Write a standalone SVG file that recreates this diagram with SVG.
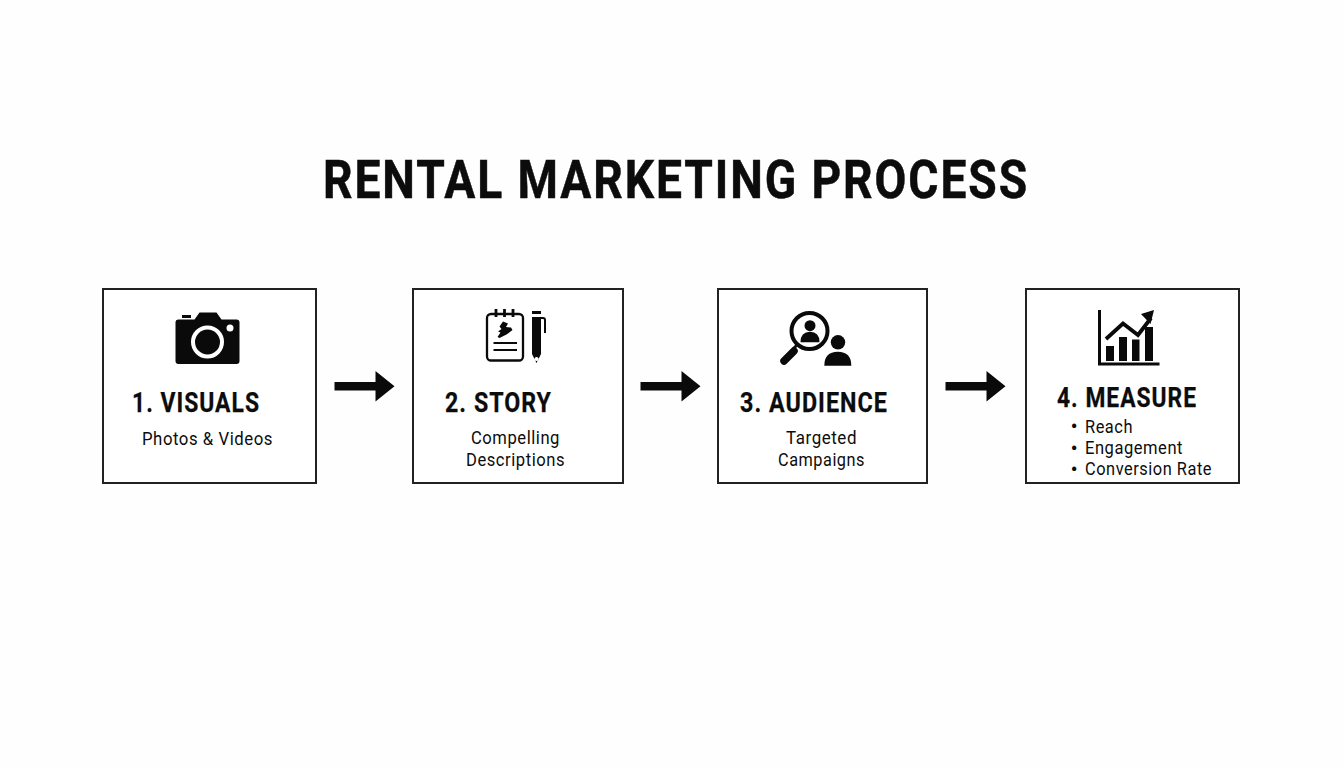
<svg xmlns="http://www.w3.org/2000/svg" width="1344" height="768" viewBox="0 0 1344 768">
<style>
text{font-family:Roboto,"Liberation Sans",sans-serif;fill:#0c0c0c}
.title{font-size:53px;font-weight:700;letter-spacing:2.200px;stroke:#0c0c0c;stroke-width:.5px}
.head{font-size:27px;font-weight:700;letter-spacing:1.200px;stroke:#0c0c0c;stroke-width:.25px}
.sub{font-size:18.5px;font-weight:400;letter-spacing:.6px}
.dot{font-size:18.5px;font-weight:700;text-anchor:middle}
.box{fill:#fff;stroke:#222;stroke-width:2}
.k{fill:#0a0a0a}
.l{fill:none;stroke:#0a0a0a}
</style>
<defs>
<path id="arrow" class="k" d="M0-4.300H41V-15.300L60 0 41 15.300V4.300H0Z"/>
</defs>
<rect width="1344" height="768" fill="#fefefe"/>
<text class="title" x="323" y="198" textLength="706" lengthAdjust="spacingAndGlyphs">RENTAL MARKETING PROCESS</text>
<g id="node-1">
<rect class="box" x="103" y="289" width="213" height="194"/>
<path class="k" d="M182 315h9v3h-9zM178.500 319.500h16l5-7h17l5 7h15q3 0 3 3v38.500q0 3-3 3h-58q-3 0-3-3v-38.500q0-3 3-3z"/>
<circle cx="207.500" cy="342" r="14.500" fill="#0a0a0a" stroke="#fff" stroke-width="4"/>
<circle cx="230" cy="328" r="3.500" fill="#fff"/>
<text class="head" x="132" y="412" textLength="128" lengthAdjust="spacingAndGlyphs">1. VISUALS</text>
<text class="sub" x="142" y="445" textLength="131" lengthAdjust="spacingAndGlyphs">Photos &amp; Videos</text>
</g>
<g id="node-2">
<rect class="box" x="413" y="289" width="210" height="194"/>
<rect class="l" x="487" y="314" width="36" height="46.500" rx="4" stroke-width="2.300"/>
<path class="l" stroke-width="2.800" d="M496 309v8M504.500 309v8M513 309v8"/>
<path class="k" d="M503 321.500l5 2-2 3.500 5 .5 1.500 2.500-6 4.500-7 3.500-2-1 3-4.500-2.500-1 3.500-2.500-2-2.500z"/>
<path class="l" stroke-width="2" d="M493.500 343h23.500M493.500 350h23.500"/>
<path class="k" fill-rule="evenodd" d="M532 311h9v3h-9zM532 317h9v37l-4.500 9-4.500-9zM536.500 357a2 2 0 1 0 .1 0z"/>
<path class="l" stroke-width="2" d="M541 318h2q2 0 2 2v13"/>
<text class="head" x="445" y="412" textLength="107" lengthAdjust="spacingAndGlyphs">2. STORY</text>
<text class="sub" x="471" y="444" textLength="89" lengthAdjust="spacingAndGlyphs">Compelling</text>
<text class="sub" x="466" y="466" textLength="99" lengthAdjust="spacingAndGlyphs">Descriptions</text>
</g>
<g id="node-3">
<rect class="box" x="718" y="289" width="209" height="194"/>
<circle class="l" cx="809.500" cy="331" r="18" stroke-width="4"/>
<path class="l" stroke-width="3" d="M797 345l-4 4"/>
<path class="l" stroke-width="7.500" stroke-linecap="round" d="M794 351l-10 10"/>
<circle class="k" cx="810" cy="325.700" r="5.500"/>
<path class="k" d="M800.500 342.300q0-10.500 9.500-10.500t9.500 10.500z"/>
<circle class="k" cx="838" cy="342.300" r="7.200"/>
<path class="k" d="M824.300 365.700q0-14 13.500-14t13.500 14z"/>
<text class="head" x="740" y="412" textLength="148" lengthAdjust="spacingAndGlyphs">3. AUDIENCE</text>
<text class="sub" x="786" y="444" textLength="71" lengthAdjust="spacingAndGlyphs">Targeted</text>
<text class="sub" x="778" y="466" textLength="87" lengthAdjust="spacingAndGlyphs">Campaigns</text>
</g>
<g id="node-4">
<rect class="box" x="1026" y="289" width="213" height="194"/>
<path class="l" stroke-width="3" d="M1099.500 310v54h60"/>
<path class="k" d="M1106 346h8v15h-8zM1119 337h8v24h-8zM1132 339.500h7.500v21.500h-7.500zM1145 327h8v34h-8z"/>
<path class="l" stroke-width="3.800" d="M1106 339l17-15.500 15 11.500 13-17"/>
<path class="k" d="M1141 314l13-4-3.500 14z"/>
<text class="head" x="1057" y="407" textLength="140" lengthAdjust="spacingAndGlyphs">4. MEASURE</text>
<text class="dot" x="1074" y="432.500">•</text>
<text class="sub" x="1085" y="433" textLength="48" lengthAdjust="spacingAndGlyphs">Reach</text>
<text class="dot" x="1074" y="454.500">•</text>
<text class="sub" x="1085" y="454" textLength="98" lengthAdjust="spacingAndGlyphs">Engagement</text>
<text class="dot" x="1074" y="475.500">•</text>
<text class="sub" x="1085" y="475" textLength="127" lengthAdjust="spacingAndGlyphs">Conversion Rate</text>
</g>
<g id="connectors">
<use href="#arrow" x="334.500" y="386.300"/>
<use href="#arrow" x="640.500" y="386.300"/>
<use href="#arrow" x="945.500" y="386.300"/>
</g>
</svg>
